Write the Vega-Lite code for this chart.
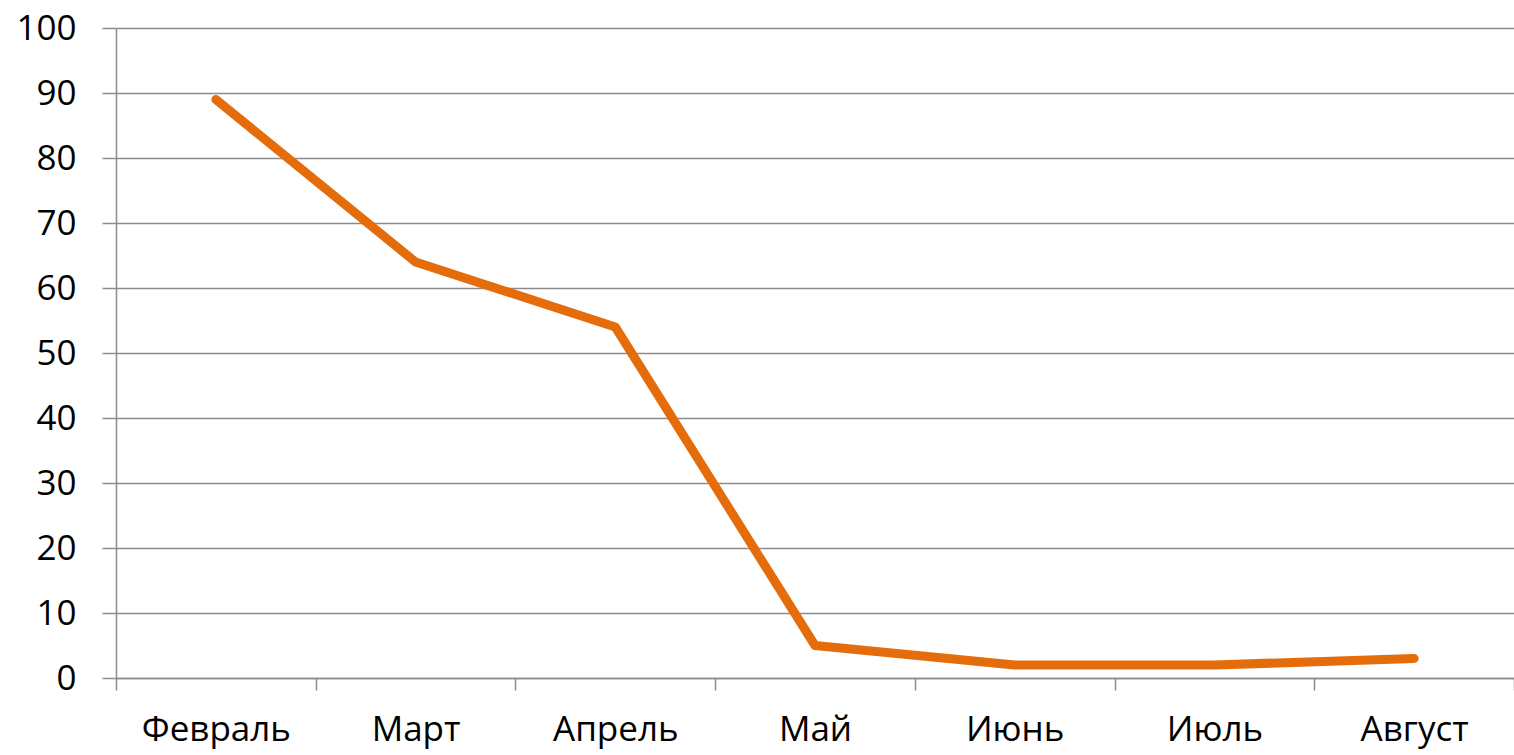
{
  "$schema": "https://vega.github.io/schema/vega-lite/v6.json",
  "autosize": "none",
  "width": 1398,
  "height": 650,
  "padding": {"left": 116, "top": 28, "right": 0, "bottom": 77},
  "background": "white",
  "config": {
    "view": {"stroke": null},
    "axis": {
      "labelFont": "Open Sans",
      "labelFontSize": 35,
      "labelColor": "#000000",
      "domainColor": "#8c8c8c",
      "domainWidth": 1.5,
      "tickColor": "#8c8c8c",
      "tickWidth": 1.5,
      "gridColor": "#8c8c8c",
      "gridWidth": 1.5
    }
  },
  "data": {
    "values": [
      {"month": "Февраль", "value": 89},
      {"month": "Март", "value": 64},
      {"month": "Апрель", "value": 54},
      {"month": "Май", "value": 5},
      {"month": "Июнь", "value": 2},
      {"month": "Июль", "value": 2},
      {"month": "Август", "value": 3}
    ]
  },
  "mark": {"type": "line", "color": "#E46C0A", "strokeWidth": 9, "strokeCap": "round", "strokeJoin": "round"},
  "encoding": {
    "x": {
      "field": "month",
      "type": "nominal",
      "sort": null,
      "scale": {"paddingInner": 0, "paddingOuter": 0},
      "axis": {
        "title": null,
        "labelAngle": 0,
        "tickBand": "extent",
        "tickSize": 12,
        "labelPadding": 22,
        "grid": false
      }
    },
    "y": {
      "field": "value",
      "type": "quantitative",
      "scale": {"domain": [0, 100], "nice": false},
      "axis": {
        "title": null,
        "values": [0, 10, 20, 30, 40, 50, 60, 70, 80, 90, 100],
        "tickSize": 14,
        "labelPadding": 26,
        "grid": true
      }
    }
  }
}
